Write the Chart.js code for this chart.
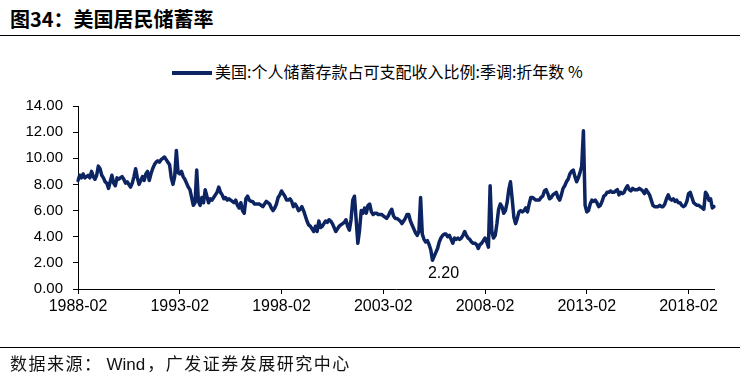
<!DOCTYPE html>
<html>
<head>
<meta charset="utf-8">
<script src="https://cdn.jsdelivr.net/npm/chart.js@4.4.1/dist/chart.umd.min.js"></script>
<style>
  body { margin: 0; width: 740px; height: 375px; background: #fff; position: relative; overflow: hidden; }
  #title { position: absolute; left: 10px; top: 4px; font: bold 20px "Noto Sans CJK SC", sans-serif; color: #000; }
  .rule { position: absolute; left: 0; width: 740px; height: 0; border-top: 1.5px solid #000; }
  #legend { position: absolute; left: 172px; top: 59px; font: 16px "Noto Sans CJK SC", sans-serif; color: #000; white-space: nowrap; }
  #legend .swatch { display: inline-block; width: 40px; height: 4px; background: #0c2461; vertical-align: middle; margin-right: 3px; position: relative; top: -1px; }
  #source { position: absolute; left: 10px; top: 350px; font: 17px "Noto Sans CJK SC", sans-serif; letter-spacing: 1.5px; color: #111; white-space: nowrap; }
  #source .latin { letter-spacing: 0; font-family: "Liberation Sans", Arial, sans-serif; margin: 0 2px 0 4px; }
  #chart { position: absolute; left: 0; top: 0; }
</style>
</head>
<body>
<div id="title">图34：美国居民储蓄率</div>
<div class="rule" style="top:35px"></div>
<div id="legend"><span class="swatch"></span>美国:个人储蓄存款占可支配收入比例:季调:折年数 %</div>
<canvas id="chart" width="740" height="375"></canvas>
<div class="rule" style="top:347px"></div>
<div id="source">数据来源：<span class="latin">Wind</span>，广发证券发展研究中心</div>

<script>
// monthly saving rate (%), 1988-02 .. 2019-05, one array per year
const s1988 = [8.3, 8.7, 8.5, 8.8, 8.5, 8.6, 8.7, 8.5, 9.0, 8.6, 8.4];
const s1989 = [8.7, 9.4, 9.2, 8.7, 8.5, 8.2, 8.1, 7.7, 8.2, 8.7, 8.1, 7.9];
const s1990 = [8.5, 8.4, 8.5, 8.6, 8.4, 8.1, 8.2, 8.0, 7.8, 8.1, 8.6, 9.2];
const s1991 = [8.5, 8.0, 8.3, 8.6, 8.3, 8.8, 9.0, 8.3, 8.8, 9.2, 9.5, 9.7];
const s1992 = [9.8, 9.7, 9.9, 10.0, 10.1, 9.9, 9.7, 9.5, 8.5, 8.0, 8.6, 10.6];
const s1993 = [8.9, 8.8, 9.0, 8.6, 8.4, 8.1, 7.8, 7.6, 7.0, 6.4, 6.6, 9.1];
const s1994 = [6.7, 6.4, 7.0, 6.6, 7.6, 7.1, 6.6, 6.9, 6.8, 7.0, 7.2, 7.4];
const s1995 = [7.8, 7.4, 7.2, 6.9, 7.0, 6.8, 6.9, 6.8, 6.7, 6.6, 6.8, 6.4];
const s1996 = [6.2, 6.6, 6.0, 5.8, 6.9, 7.1, 6.8, 6.7, 6.7, 6.5, 6.5, 6.5];
const s1997 = [6.5, 6.4, 6.3, 6.5, 6.7, 6.6, 6.5, 6.2, 6.0, 6.2, 6.5, 7.0];
const s1998 = [7.2, 7.5, 7.3, 7.1, 6.8, 6.8, 6.9, 6.7, 6.3, 6.5, 6.3, 6.0];
const s1999 = [6.1, 6.3, 6.0, 5.6, 5.2, 4.9, 4.8, 4.6, 4.4, 4.8, 4.4, 5.2];
const s2000 = [4.7, 4.8, 5.0, 5.2, 5.1, 5.3, 5.2, 5.0, 4.7, 4.4, 4.6, 4.8];
const s2001 = [4.9, 5.0, 5.1, 5.3, 4.8, 4.5, 5.3, 6.8, 7.1, 5.3, 3.5, 4.5];
const s2002 = [6.0, 5.8, 6.2, 5.8, 6.4, 6.5, 5.9, 5.7, 5.8, 5.8, 5.7, 5.7];
const s2003 = [5.7, 5.6, 5.5, 5.4, 5.6, 5.9, 6.1, 5.6, 5.4, 5.4, 5.3, 5.2];
const s2004 = [5.0, 5.2, 5.4, 5.7, 5.7, 5.2, 4.9, 4.6, 4.3, 4.1, 4.4, 7.0];
const s2005 = [4.2, 3.8, 3.6, 3.7, 3.4, 3.0, 2.2, 2.5, 2.8, 3.1, 3.6, 3.9];
const s2006 = [4.1, 4.2, 4.2, 4.0, 4.1, 3.8, 3.5, 3.9, 3.8, 3.9, 3.8, 3.9];
const s2007 = [4.1, 4.4, 4.1, 3.9, 3.8, 3.6, 3.5, 3.5, 3.4, 3.1, 3.4, 3.5];
const s2008 = [3.7, 3.9, 3.6, 3.2, 7.9, 4.4, 3.9, 4.1, 5.0, 6.1, 6.5, 6.3];
const s2009 = [5.8, 6.0, 6.6, 7.6, 8.2, 6.9, 5.5, 5.0, 5.4, 5.9, 6.0, 5.9];
const s2010 = [6.0, 6.2, 5.9, 6.5, 7.0, 7.0, 6.9, 6.8, 6.8, 6.8, 7.0, 7.1];
const s2011 = [7.5, 7.6, 7.3, 6.9, 7.0, 7.2, 7.3, 7.4, 7.0, 6.8, 7.2, 7.7];
const s2012 = [7.9, 8.2, 8.4, 8.8, 9.0, 9.1, 8.6, 8.2, 8.5, 8.9, 9.4, 12.1];
const s2013 = [6.4, 5.9, 6.0, 6.5, 6.8, 6.7, 6.8, 6.6, 6.3, 6.4, 6.7, 7.1];
const s2014 = [7.2, 7.4, 7.4, 7.5, 7.4, 7.4, 7.5, 7.6, 7.2, 7.4, 7.3, 7.4];
const s2015 = [7.7, 7.9, 7.6, 7.5, 7.7, 7.6, 7.6, 7.6, 7.7, 7.6, 7.5, 7.3];
const s2016 = [7.6, 7.4, 7.2, 6.8, 6.4, 6.3, 6.3, 6.3, 6.4, 6.3, 6.3, 6.5];
const s2017 = [6.9, 7.2, 6.9, 6.8, 6.9, 6.7, 6.8, 6.6, 6.6, 6.4, 6.3, 6.4];
const s2018 = [6.7, 7.3, 7.4, 7.0, 6.6, 6.5, 6.4, 6.4, 6.3, 6.2, 6.1, 7.4];
const s2019 = [7.2, 6.8, 6.9, 6.2, 6.3];

const xTickLabels = ['1988-02', '1993-02', '1998-02', '2003-02', '2008-02', '2013-02', '2018-02'];
const yTicks = [0, 2, 4, 6, 8, 10, 12, 14];
const seriesName = '美国:个人储蓄存款占可支配收入比例:季调:折年数 %';
const lineColor = '#0c2461';

const savingRate = [].concat(
    s1988, s1989, s1990, s1991, s1992, s1993, s1994, s1995, s1996, s1997, s1998,
    s1999, s2000, s2001, s2002, s2003, s2004, s2005, s2006, s2007, s2008, s2009,
    s2010, s2011, s2012, s2013, s2014, s2015, s2016, s2017, s2018, s2019
);

// month labels starting at 1988-02
const months = savingRate.map((_, i) => {
    const t = 1988 * 12 + 1 + i;
    const y = Math.floor(t / 12);
    const m = (t % 12) + 1;
    return y + '-' + String(m).padStart(2, '0');
});

// "2.20" label under the lowest point
const minLabel = {
    id: 'minLabel',
    afterDatasetsDraw(chart) {
        const data = chart.data.datasets[0].data;
        let idx = 0;
        data.forEach((v, i) => { if (v < data[idx]) idx = i; });
        const x = chart.scales.x.getPixelForValue(idx);
        const y = chart.scales.y.getPixelForValue(data[idx]);
        const ctx = chart.ctx;
        ctx.save();
        ctx.font = '16px "Liberation Sans", Arial, sans-serif';
        ctx.fillStyle = '#000';
        ctx.textAlign = 'center';
        ctx.textBaseline = 'middle';
        ctx.fillText(data[idx].toFixed(2), x + 11, y + 13);
        ctx.restore();
    }
};

const axisFont = { family: '"Liberation Sans", Arial, sans-serif' };

new Chart(document.getElementById('chart').getContext('2d'), {
    type: 'line',
    data: {
        labels: months,
        datasets: [{
            label: seriesName,
            data: savingRate,
            borderColor: lineColor,
            backgroundColor: lineColor,
            borderWidth: 3.5,
            borderJoinStyle: 'round',
            borderCapStyle: 'round',
            pointRadius: 0,
            tension: 0,
            fill: false
        }]
    },
    options: {
        responsive: false,
        devicePixelRatio: 1,
        animation: false,
        layout: { padding: { top: 106, bottom: 56, left: 0, right: 26 } },
        plugins: { legend: { display: false }, tooltip: { enabled: false } },
        scales: {
            x: {
                offset: false,
                afterFit: s => { s.height = 30; },
                border: { display: true, color: '#000', width: 1 },
                grid: { display: true, drawOnChartArea: false, drawTicks: true, tickLength: 5, color: '#000' },
                ticks: {
                    autoSkip: false,
                    maxRotation: 0,
                    padding: 3,
                    color: '#000',
                    font: { ...axisFont, size: 16 },
                    callback: function (value) {
                        const lab = this.getLabelForValue(value);
                        return xTickLabels.includes(lab) ? lab : null;
                    }
                }
            },
            y: {
                min: yTicks[0],
                max: yTicks[yTicks.length - 1],
                afterFit: s => { s.width = 78; },
                afterBuildTicks: s => { s.ticks = yTicks.map(v => ({ value: v })); },
                border: { display: true, color: '#000', width: 1 },
                grid: { display: true, drawOnChartArea: false, drawTicks: true, tickLength: 5, color: '#000' },
                ticks: {
                    padding: 10,
                    color: '#000',
                    font: { ...axisFont, size: 15 },
                    callback: v => Number(v).toFixed(2)
                }
            }
        }
    },
    plugins: [minLabel]
});
</script>
</body>
</html>
